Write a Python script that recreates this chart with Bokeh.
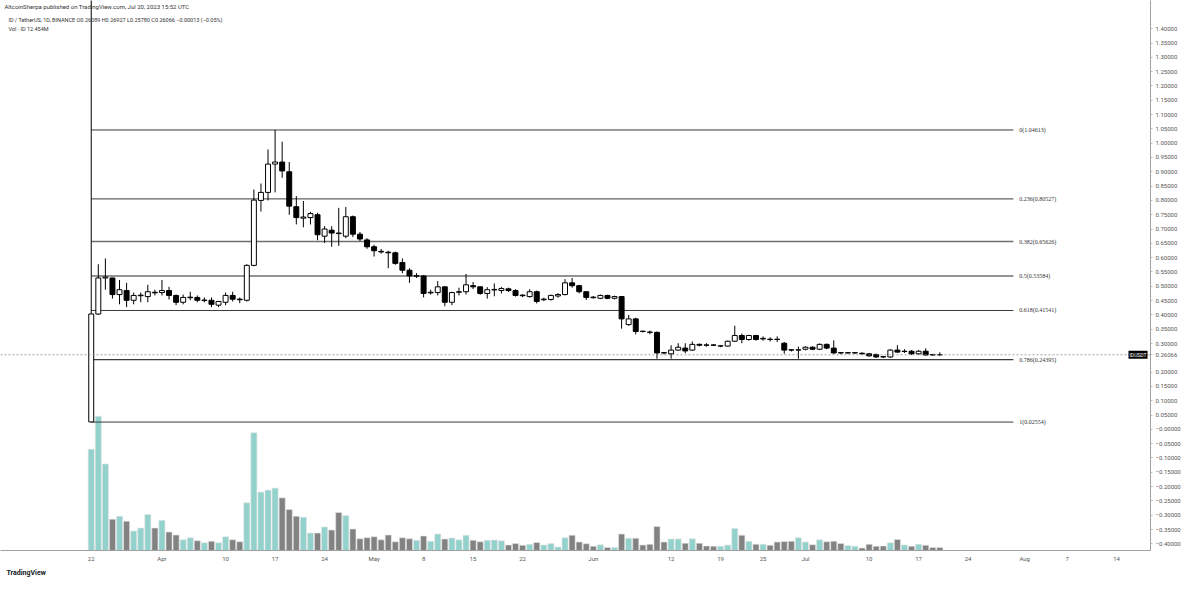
import numpy as np
import pandas as pd
from bokeh.plotting import figure
from bokeh.models import Range1d, ColumnDataSource, FixedTicker, Span, Label, LabelSet, Title
from bokeh.embed import file_html
from bokeh.resources import INLINE

# ---------------- data ----------------
start_date = "2023-03-22"
opens = [0.0260, 0.4030, 0.5290, 0.5290, 0.4710, 0.4850, 0.4510, 0.4670, 0.4640, 0.4790,
         0.4780, 0.4850, 0.4680, 0.4440, 0.4600, 0.4610, 0.4500, 0.4510, 0.4340, 0.4440,
         0.4680, 0.4550, 0.4510, 0.5730, 0.8000, 0.8280, 0.9270, 0.9340, 0.9000, 0.7780,
         0.7380, 0.7400, 0.7500, 0.6750, 0.6960, 0.6860, 0.6750, 0.7430, 0.6820, 0.6620,
         0.6380, 0.6220, 0.6190, 0.6170, 0.5830, 0.5560, 0.5350, 0.5360, 0.4770, 0.4780,
         0.4980, 0.4440, 0.4790, 0.4810, 0.5020, 0.4980, 0.4750, 0.4870, 0.4850, 0.4910,
         0.4850, 0.4690, 0.4640, 0.4810, 0.4530, 0.4540, 0.4660, 0.4710, 0.5120, 0.5020,
         0.4810, 0.4620, 0.4580, 0.4680, 0.4580, 0.4640, 0.3660, 0.3860, 0.3430, 0.3400,
         0.3390, 0.2680, 0.2640, 0.2770, 0.2840, 0.2770, 0.2970, 0.2950, 0.2950, 0.2910,
         0.2910, 0.3080, 0.3280, 0.3140, 0.3280, 0.3160, 0.3150, 0.3150, 0.3010, 0.2780,
         0.2770, 0.2800, 0.2870, 0.2800, 0.2970, 0.2840, 0.2680, 0.2670, 0.2670, 0.2660,
         0.2640, 0.2620, 0.2540, 0.2530, 0.2770, 0.2720, 0.2730, 0.2640, 0.2730, 0.2610,
         0.26089]
highs = [1.6000, 0.5770, 0.5970, 0.5300, 0.5220, 0.5120, 0.4780, 0.4780, 0.5050, 0.4880,
         0.5220, 0.4980, 0.4710, 0.4710, 0.4810, 0.4680, 0.4610, 0.4610, 0.4470, 0.4780,
         0.4810, 0.4610, 0.5770, 0.8380, 0.8590, 0.9780, 1.04613, 1.0050, 0.9340, 0.8150,
         0.7980, 0.7600, 0.7570, 0.7100, 0.7100, 0.7740, 0.7770, 0.7470, 0.6900, 0.6680,
         0.6450, 0.6300, 0.6240, 0.6210, 0.5970, 0.5630, 0.5460, 0.5390, 0.4880, 0.5180,
         0.5000, 0.4810, 0.4950, 0.5430, 0.5150, 0.5000, 0.4970, 0.5100, 0.4980, 0.4950,
         0.4900, 0.4720, 0.4900, 0.4850, 0.4600, 0.4710, 0.4760, 0.5250, 0.5290, 0.5050,
         0.4830, 0.4660, 0.4710, 0.4700, 0.4670, 0.4660, 0.4000, 0.3900, 0.3450, 0.3450,
         0.3420, 0.2700, 0.2940, 0.3010, 0.3010, 0.3070, 0.3000, 0.3010, 0.2980, 0.2950,
         0.3100, 0.3620, 0.3350, 0.3300, 0.3300, 0.3250, 0.3220, 0.3250, 0.3050, 0.2800,
         0.2890, 0.2900, 0.2900, 0.3000, 0.3000, 0.3110, 0.2700, 0.2700, 0.2700, 0.2690,
         0.2670, 0.2640, 0.2570, 0.2800, 0.2940, 0.2800, 0.2770, 0.2770, 0.2830, 0.2640,
         0.26927]
lows = [0.02554, 0.4000, 0.4880, 0.4570, 0.4370, 0.4270, 0.4370, 0.4440, 0.4440, 0.4680,
        0.4680, 0.4540, 0.4340, 0.4370, 0.4510, 0.4440, 0.4440, 0.4270, 0.4270, 0.4340,
        0.4470, 0.4410, 0.4470, 0.5700, 0.7610, 0.8000, 0.8280, 0.8790, 0.7500, 0.7160,
        0.7060, 0.7160, 0.6610, 0.6510, 0.6380, 0.6410, 0.6680, 0.6720, 0.6580, 0.6310,
        0.6040, 0.6140, 0.5630, 0.5750, 0.5460, 0.5120, 0.5290, 0.4610, 0.4710, 0.4680,
        0.4300, 0.4340, 0.4680, 0.4710, 0.4900, 0.4700, 0.4570, 0.4650, 0.4750, 0.4800,
        0.4640, 0.4620, 0.4600, 0.4400, 0.4480, 0.4500, 0.4600, 0.4680, 0.4950, 0.4750,
        0.4520, 0.4570, 0.4550, 0.4550, 0.4540, 0.3520, 0.3620, 0.3320, 0.3380, 0.3320,
        0.2470, 0.2620, 0.2470, 0.2740, 0.2660, 0.2740, 0.2900, 0.2890, 0.2910, 0.2870,
        0.2890, 0.3060, 0.3010, 0.3100, 0.3100, 0.3100, 0.3070, 0.3050, 0.2640, 0.2720,
        0.2470, 0.2760, 0.2770, 0.2770, 0.2800, 0.2640, 0.2630, 0.2640, 0.2640, 0.2610,
        0.2540, 0.2500, 0.2500, 0.2500, 0.2670, 0.2670, 0.2600, 0.2600, 0.2570, 0.2570,
        0.25780]
closes = [0.4030, 0.5290, 0.5320, 0.4710, 0.4880, 0.4510, 0.4680, 0.4690, 0.4810, 0.4770,
          0.4850, 0.4680, 0.4440, 0.4610, 0.4620, 0.4510, 0.4520, 0.4370, 0.4470, 0.4680,
          0.4550, 0.4530, 0.5730, 0.8010, 0.8280, 0.9270, 0.9340, 0.9030, 0.7800, 0.7400,
          0.7420, 0.7540, 0.6800, 0.7000, 0.6860, 0.6840, 0.7430, 0.6820, 0.6650, 0.6380,
          0.6240, 0.6200, 0.6170, 0.5800, 0.5560, 0.5360, 0.5370, 0.4750, 0.4790, 0.4980,
          0.4440, 0.4780, 0.4810, 0.5050, 0.4980, 0.4750, 0.4880, 0.4890, 0.4920, 0.4850,
          0.4680, 0.4670, 0.4810, 0.4470, 0.4550, 0.4680, 0.4710, 0.5120, 0.5020, 0.4810,
          0.4610, 0.4600, 0.4680, 0.4580, 0.4640, 0.3860, 0.3860, 0.3420, 0.3420, 0.3390,
          0.2670, 0.2670, 0.2770, 0.2870, 0.2740, 0.2970, 0.2940, 0.2940, 0.2940, 0.2920,
          0.3080, 0.3280, 0.3140, 0.3280, 0.3140, 0.3180, 0.3140, 0.3140, 0.2770, 0.2770,
          0.2780, 0.2870, 0.2800, 0.2970, 0.2840, 0.2670, 0.2670, 0.2680, 0.2680, 0.2640,
          0.2570, 0.2530, 0.2530, 0.2770, 0.2700, 0.2730, 0.2640, 0.2730, 0.2600, 0.2600,
          0.26066]
volumes_m = [406, 538, 347, 125, 137, 117, 78, 90, 144, 90,
             121, 74, 62, 43, 51, 39, 31, 37, 31, 55,
             43, 35, 191, 472, 234, 242, 250, 211, 164, 137,
             133, 70, 70, 94, 82, 152, 140, 86, 47, 51,
             55, 43, 62, 35, 51, 47, 41, 58, 37, 66,
             46, 50, 43, 61, 41, 35, 41, 42, 39, 22,
             28, 21, 25, 32, 22, 28, 14, 51, 61, 34,
             27, 17, 23, 12, 12, 66, 49, 49, 22, 25,
             96, 34, 46, 46, 29, 47, 29, 18, 17, 17,
             22, 88, 61, 37, 25, 25, 21, 34, 36, 37,
             51, 34, 23, 43, 35, 37, 28, 20, 17, 10,
             25, 17, 18, 31, 44, 22, 17, 25, 21, 12,
             12.454]

fib_ratios = ["0", "0.236", "0.382", "0.5", "0.618", "0.786", "1"]
fib_prices = [1.04613, 0.80527, 0.65626, 0.53584, 0.41541, 0.24395, 0.02554]

tick_dates = ["2023-03-22", "2023-04-01", "2023-04-10", "2023-04-17", "2023-04-24",
              "2023-05-01", "2023-05-08", "2023-05-15", "2023-05-22", "2023-06-01",
              "2023-06-12", "2023-06-19", "2023-06-25", "2023-07-01", "2023-07-10",
              "2023-07-17", "2023-07-24", "2023-08-01", "2023-08-07", "2023-08-14"]
tick_labels = ["22", "Apr", "10", "17", "24", "May", "8", "15", "22", "Jun",
               "12", "19", "25", "Jul", "10", "17", "24", "Aug", "7", "14"]

last_price = 0.26066
# price scale labels -0.40 ... 1.40 (0.25 is covered by the last-price tag)
price_ticks = [round(k * 0.05, 2) for k in range(-8, 29) if k != 5]

# ---------------- layout helpers (reference pixel -> data) ----------------
W, H = 1184, 579
SX, SY = W / 1200, H / 595
PX_DAY, X_DAY0 = 7.17, 92.0
PX_UNIT, Y_REF, P_REF = 294.0, 133.0, 1.04613


def day_at(px):
    return (px - X_DAY0) / PX_DAY


def price_at(py):
    return P_REF - (py - Y_REF) / PX_UNIT


dates = pd.date_range(start_date, periods=len(opens), freq="D")
x = np.array([(d - dates[0]).days for d in dates])
o, h, l, c = map(np.array, (opens, highs, lows, closes))
up = c >= o

src = ColumnDataSource(dict(
    x=x, open=o, high=h, low=l, close=c,
    top=np.maximum(o, c), bottom=np.minimum(o, c),
    fill=np.where(up, "#ffffff", "#000000"),
    vol=np.array(volumes_m),
    vcol=np.where(up, "#93d2cc", "#828282"),
))

frame_bottom_ref, frame_right_ref = 565, 1166
p = figure(width=W, height=H,
           x_range=Range1d(day_at(0), day_at(frame_right_ref)),
           y_range=Range1d(price_at(frame_bottom_ref), price_at(0)),
           y_axis_location="right", output_backend="svg", toolbar_location=None,
           min_border_left=0, min_border_top=0,
           min_border_right=int(round(W - frame_right_ref * SX)),
           min_border_bottom=int(round(H - frame_bottom_ref * SY)),
           background_fill_color="white", border_fill_color="white")
p.outline_line_color = None
p.grid.visible = False

vol_px_per_m = 1 / 3.9
p.extra_y_ranges = {"vol": Range1d(0, frame_bottom_ref / vol_px_per_m)}

# volume
p.vbar(x="x", width=0.86, top="vol", bottom=0, fill_color="vcol", line_color="#e4e4e4",
       line_width=0.6, source=src, y_range_name="vol")

# fib levels
fib_src = ColumnDataSource(dict(
    y=fib_prices,
    x0=[0] * len(fib_prices),
    x1=[day_at(1027)] * len(fib_prices),
    lx=[day_at(1033)] * len(fib_prices),
    text=[f"{r}({v:.5f})" for r, v in zip(fib_ratios, fib_prices)],
    color=["#3a3a3a", "#3a3a3a", "#6f6f6f", "#6f6f6f", "#3a3a3a", "#3a3a3a", "#3a3a3a"],
    lw=[1, 1, 1.6, 1.3, 1, 1.2, 1],
))
p.segment(x0="x0", y0="y", x1="x1", y1="y", line_color="color", line_width="lw", source=fib_src)
p.add_layout(LabelSet(x="lx", y="y", text="text", source=fib_src, text_font_size="6px",
                      text_color="#333333", text_baseline="middle", text_font="Roboto"))

# last price dotted line
p.add_layout(Span(location=last_price, dimension="width", line_color="#8a8a8a",
                  line_dash="2 2", line_width=0.8))

# candles
p.segment(x0="x", y0="low", x1="x", y1="high", line_color="black", line_width=1, source=src)
p.vbar(x="x", width=0.7, top="top", bottom="bottom", fill_color="fill", line_color="black",
       line_width=1, source=src)

# axes
tick_days = [int((pd.Timestamp(t) - dates[0]).days) for t in tick_dates]
xa = p.xaxis[0]
xa.ticker = FixedTicker(ticks=tick_days)
xa.major_label_overrides = {d: s for d, s in zip(tick_days, tick_labels)}
xa.major_tick_out = 0
xa.major_tick_in = 0
xa.major_tick_line_color = None
xa.minor_tick_line_color = None
xa.axis_line_color = "#a0a0a0"
xa.major_label_text_font_size = "6px"
xa.major_label_text_color = "#555555"
xa.major_label_text_font = "Roboto"
xa.major_label_standoff = 4

ya = p.yaxis[0]
ya.ticker = FixedTicker(ticks=price_ticks + [last_price])
overrides = {v: (("\u2212" if v <= 0 else "") + f"{abs(v):.5f}") for v in price_ticks}
overrides[last_price] = f"{last_price:.5f}"
ya.major_label_overrides = overrides
ya.major_tick_out = 2
ya.major_tick_in = 0
ya.major_tick_line_color = "#bbbbbb"
ya.minor_tick_line_color = None
ya.axis_line_color = "#a0a0a0"
ya.major_label_text_font_size = "6px"
ya.major_label_text_color = "#555555"
ya.major_label_text_font = "Roboto"
ya.major_label_standoff = 3

# header texts
p.add_layout(Label(x=day_at(4), y=price_at(6),
                   text="AltcoinSherpa published on TradingView.com, Jul 20, 2023 15:52 UTC",
                   text_font_size="6px", text_color="#333333", text_baseline="middle",
                   text_font="Roboto"))
p.add_layout(Label(x=day_at(8), y=price_at(20),
                   text="ID / TetherUS, 1D, BINANCE  O0.26089 H0.26927 L0.25780 C0.26066 \u22120.00013 (\u22120.05%)",
                   text_font_size="5.5px", text_color="#333333", text_baseline="middle",
                   text_font="Roboto"))
p.add_layout(Label(x=day_at(8), y=price_at(29), text="Vol \u00b7 ID  12.454M",
                   text_font_size="5.5px", text_color="#333333", text_baseline="middle",
                   text_font="Roboto"))

# symbol tag
p.add_layout(Label(x=day_at(1163), y=last_price, text="IDUSDT", text_align="right",
                   text_baseline="middle", text_font_size="5px", text_color="white",
                   background_fill_color="black", text_font="Roboto", padding=1))

# footer
p.add_layout(Title(text="TradingView", align="left", offset=6, standoff=4,
                   text_font_size="7px", text_font_style="bold", text_color="#131722",
                   text_font="Roboto"), "below")

open("out.html", "w").write(file_html(p, INLINE))
